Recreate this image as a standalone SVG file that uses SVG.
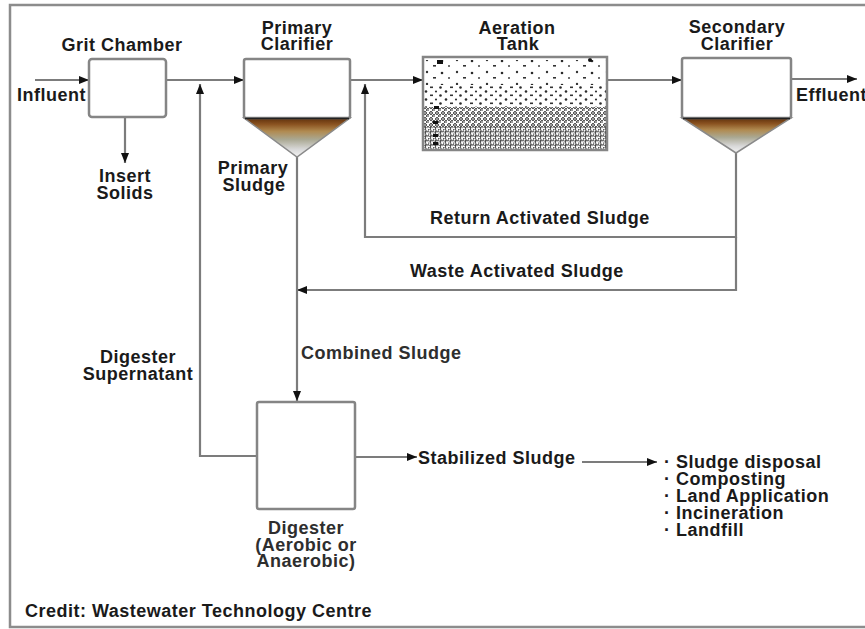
<svg xmlns="http://www.w3.org/2000/svg" width="865" height="629" viewBox="0 0 865 629">
  <style>
    text { font-family: "Liberation Sans", Arial, Helvetica, sans-serif; font-weight: bold; font-size: 18px; letter-spacing: 0.5px; fill: #1a1a1a; }
    .mid { text-anchor: middle; }
    .soft { fill: #2e2e2e; }
    .box { fill: #ffffff; stroke: #858585; stroke-width: 2.5; }
    .line { fill: none; stroke: #7c7c7c; stroke-width: 2.2; }
    .cone { stroke: #8a8a8a; stroke-width: 1.5; }
  </style>
  <defs>
    <marker id="arrow" viewBox="0 0 10 8" refX="10" refY="4" markerWidth="10" markerHeight="8" markerUnits="userSpaceOnUse" orient="auto">
      <path d="M0,0 L10,4 L0,8 Z" fill="#111"/>
    </marker>
    <linearGradient id="sludge" x1="0" y1="0" x2="0" y2="1">
      <stop offset="0" stop-color="#5e300c"/>
      <stop offset="0.16" stop-color="#8a5220"/>
      <stop offset="0.34" stop-color="#b08a50"/>
      <stop offset="0.55" stop-color="#aaa892"/>
      <stop offset="0.8" stop-color="#d8d8d8"/>
      <stop offset="1" stop-color="#f4f4f4"/>
    </linearGradient>
    <!-- bubble textures, sparse at the surface and dense at the floor -->
    <pattern id="bub1" x="423" y="57" width="30" height="12" patternUnits="userSpaceOnUse">
      <circle cx="4" cy="3" r="1.2" fill="#333"/>
      <rect x="10" y="8" width="3" height="1.6" fill="#333"/>
      <circle cx="19" cy="4" r="1.3" fill="#2a2a2a"/>
      <circle cx="26" cy="9" r="1" fill="#444"/>
    </pattern>
    <pattern id="bub2" x="423" y="57" width="20" height="8" patternUnits="userSpaceOnUse">
      <circle cx="3" cy="2.5" r="1.3" fill="#2a2a2a"/>
      <rect x="7" y="5.5" width="3" height="1.6" fill="#333"/>
      <circle cx="13" cy="2.5" r="1.1" fill="#333"/>
      <circle cx="17.5" cy="6.5" r="1.3" fill="#2a2a2a"/>
    </pattern>
    <pattern id="bub3" x="423" y="57" width="6" height="6" patternUnits="userSpaceOnUse">
      <circle cx="2" cy="2" r="1.4" fill="none" stroke="#222" stroke-width="1"/>
      <circle cx="5" cy="5" r="1.4" fill="none" stroke="#222" stroke-width="1"/>
    </pattern>
    <pattern id="bub4" x="423" y="57" width="5" height="4.5" patternUnits="userSpaceOnUse">
      <circle cx="1.5" cy="1.5" r="1.5" fill="none" stroke="#1e1e1e" stroke-width="0.9"/>
      <circle cx="4" cy="3.8" r="1.5" fill="none" stroke="#1e1e1e" stroke-width="0.9"/>
    </pattern>
  </defs>

  <rect width="865" height="629" fill="#ffffff"/>
  <!-- outer frame -->
  <path d="M880,5 H10 V627 H880" fill="none" stroke="#8c8c8c" stroke-width="2.5"/>

  <!-- connectors -->
  <g id="connectors">
    <path class="line" d="M35,80 H89" marker-end="url(#arrow)"/>
    <path class="line" d="M166,80 H244" marker-end="url(#arrow)"/>
    <path class="line" d="M125,118 V163" marker-end="url(#arrow)"/>
    <path class="line" d="M350,80 H423" marker-end="url(#arrow)"/>
    <path class="line" d="M607,80 H682" marker-end="url(#arrow)"/>
    <path class="line" d="M791,79 H857" marker-end="url(#arrow)"/>
    <!-- digester supernatant return -->
    <path class="line" d="M257,456 H200 V84" marker-end="url(#arrow)"/>
    <!-- return activated sludge -->
    <path class="line" d="M736,153 V237 H365 V84" marker-end="url(#arrow)"/>
    <!-- waste activated sludge -->
    <path class="line" d="M736,237 V290 H297" marker-end="url(#arrow)"/>
    <!-- primary / combined sludge to digester -->
    <path class="line" d="M297,157 V401" marker-end="url(#arrow)"/>
    <path class="line" d="M355,457 H417" marker-end="url(#arrow)"/>
    <path class="line" d="M582,462 H657" marker-end="url(#arrow)"/>
  </g>

  <g id="influent">
    <text x="17" y="101">Influent</text>
  </g>

  <g id="grit-chamber">
    <text class="mid" x="122" y="51">Grit Chamber</text>
    <rect class="box" x="89" y="59" width="77" height="58" rx="3"/>
  </g>

  <g id="insert-solids">
    <text class="mid" x="125" y="182">Insert</text>
    <text class="mid" x="125" y="199">Solids</text>
  </g>

  <g id="primary-clarifier">
    <text class="mid" x="297" y="34">Primary</text>
    <text class="mid" x="297" y="50">Clarifier</text>
    <path class="cone" d="M244,118 H350 L297,157 Z" fill="url(#sludge)"/>
    <rect class="box" x="244" y="59" width="106" height="59" rx="2"/>
    <line x1="245" y1="118.5" x2="349" y2="118.5" stroke="#222" stroke-width="1.5"/>
  </g>

  <g id="primary-sludge">
    <text class="mid" x="253" y="174">Primary</text>
    <text class="mid" x="254" y="191">Sludge</text>
  </g>

  <g id="aeration-tank">
    <text class="mid" x="517" y="34">Aeration</text>
    <text class="mid" x="518" y="50">Tank</text>
    <rect x="423" y="57" width="184" height="93" fill="#ffffff"/>
    <rect x="424" y="60" width="182" height="25" fill="url(#bub1)"/>
    <rect x="424" y="85" width="182" height="22" fill="url(#bub2)"/>
    <rect x="424" y="107" width="182" height="20" fill="url(#bub3)"/>
    <rect x="424" y="127" width="182" height="22" fill="url(#bub4)"/>
    <rect x="437" y="60" width="6" height="4" fill="#111"/>
    <rect x="434" y="106" width="5" height="3" fill="#111"/>
    <rect x="433" y="121" width="5" height="3" fill="#111"/>
    <rect x="433" y="134" width="5" height="3" fill="#111"/>
    <rect x="433" y="142" width="5" height="3" fill="#111"/>
    <circle cx="590" cy="60" r="2" fill="#111"/>
    <rect x="423" y="57" width="184" height="93" fill="none" stroke="#858585" stroke-width="2.5"/>
  </g>

  <g id="secondary-clarifier">
    <text class="mid" x="737" y="33">Secondary</text>
    <text class="mid" x="737" y="50">Clarifier</text>
    <path class="cone" d="M682,118 H791 L736,153 Z" fill="url(#sludge)"/>
    <rect class="box" x="682" y="58" width="109" height="60" rx="2"/>
    <line x1="683" y1="118.5" x2="790" y2="118.5" stroke="#222" stroke-width="1.5"/>
  </g>

  <g id="effluent">
    <text x="796" y="101">Effluent</text>
  </g>

  <g id="return-activated-sludge">
    <text x="430" y="224">Return Activated Sludge</text>
  </g>

  <g id="waste-activated-sludge">
    <text x="410" y="277">Waste Activated Sludge</text>
  </g>

  <g id="combined-sludge">
    <text class="soft" x="301" y="359">Combined Sludge</text>
  </g>

  <g id="digester-supernatant">
    <text class="mid" x="138" y="363">Digester</text>
    <text class="mid" x="138" y="380">Supernatant</text>
  </g>

  <g id="digester">
    <rect class="box" x="257" y="402" width="98" height="107" rx="2"/>
    <text class="mid soft" x="306" y="534">Digester</text>
    <text class="mid soft" x="306" y="551">(Aerobic or</text>
    <text class="mid soft" x="306" y="567">Anaerobic)</text>
  </g>

  <g id="stabilized-sludge">
    <text x="418" y="464">Stabilized Sludge</text>
  </g>

  <g id="disposal-options">
    <text x="664" y="468">· Sludge disposal</text>
    <text x="664" y="485">· Composting</text>
    <text x="664" y="502">· Land Application</text>
    <text x="664" y="519">· Incineration</text>
    <text x="664" y="536">· Landfill</text>
  </g>

  <g id="credit">
    <text x="25" y="617" fill="#22222e">Credit: Wastewater Technology Centre</text>
  </g>
</svg>
